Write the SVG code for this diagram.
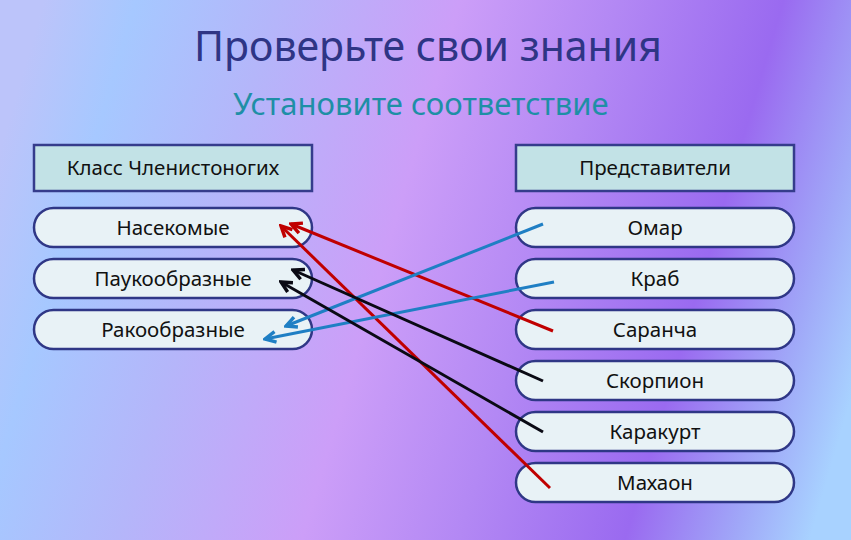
<svg xmlns="http://www.w3.org/2000/svg" width="851" height="540" viewBox="0 0 851 540">
<defs>
<linearGradient id="bg" gradientUnits="userSpaceOnUse" x1="0" y1="150" x2="851" y2="400">
<stop offset="0" stop-color="#bcc4fa"/>
<stop offset="0.1" stop-color="#a6c8ff"/>
<stop offset="0.25" stop-color="#b4b6fa"/>
<stop offset="0.45" stop-color="#cc9ef8"/>
<stop offset="0.62" stop-color="#b388f4"/>
<stop offset="0.8" stop-color="#9a6af0"/>
<stop offset="0.92" stop-color="#a0a8f8"/>
<stop offset="1" stop-color="#a8d2ff"/>
</linearGradient>
<marker id="aRed" viewBox="0 0 14 14" refX="12" refY="7" markerWidth="15" markerHeight="15" markerUnits="userSpaceOnUse" orient="auto"><path d="M2,2 L12,7 L2,12" fill="none" stroke="#c00000" stroke-width="3.2"/></marker>
<marker id="aBlue" viewBox="0 0 14 14" refX="12" refY="7" markerWidth="15" markerHeight="15" markerUnits="userSpaceOnUse" orient="auto"><path d="M2,2 L12,7 L2,12" fill="none" stroke="#1f7fc4" stroke-width="3.2"/></marker>
<marker id="aBlack" viewBox="0 0 14 14" refX="12" refY="7" markerWidth="15" markerHeight="15" markerUnits="userSpaceOnUse" orient="auto"><path d="M2,2 L12,7 L2,12" fill="none" stroke="#0a0a14" stroke-width="3.2"/></marker>
</defs>
<style>
.hdr{fill:#c2e2e6;stroke:#353c8c;stroke-width:2.5}
.pill{fill:#e8f2f6;stroke:#2f3786;stroke-width:2.5}
.t{font-family:"Noto Sans","Open Sans",sans-serif;font-size:20.5px;fill:#111;text-anchor:middle}
.title{font-family:"Noto Sans","Open Sans",sans-serif;font-size:41px;fill:#2e3585;text-anchor:middle}
.sub{font-family:"Noto Sans","Open Sans",sans-serif;font-size:31px;fill:#1e8fa6;text-anchor:middle}
.c{fill:none;stroke-width:3;stroke-linecap:butt}
</style>
<rect width="851" height="540" fill="url(#bg)"/>
<text class="title" x="428" y="61">Проверьте свои знания</text>
<text class="sub" x="421" y="115">Установите соответствие</text>
<g id="hdr-left"><rect class="hdr" x="34" y="145" width="278" height="46"/><text class="t" x="173" y="175">Класс Членистоногих</text></g>
<g id="hdr-right"><rect class="hdr" x="516" y="145" width="278" height="46"/><text class="t" x="655" y="175">Представители</text></g>
<g id="l1"><rect class="pill" x="34" y="208" width="278" height="39" rx="19.5"/><text class="t" x="173" y="235">Насекомые</text></g>
<g id="l2"><rect class="pill" x="34" y="259" width="278" height="39" rx="19.5"/><text class="t" x="173" y="286">Паукообразные</text></g>
<g id="l3"><rect class="pill" x="34" y="310" width="278" height="39" rx="19.5"/><text class="t" x="173" y="337">Ракообразные</text></g>
<g id="r1"><rect class="pill" x="516" y="208" width="278" height="39" rx="19.5"/><text class="t" x="655" y="235">Омар</text></g>
<g id="r2"><rect class="pill" x="516" y="259" width="278" height="39" rx="19.5"/><text class="t" x="655" y="286">Краб</text></g>
<g id="r3"><rect class="pill" x="516" y="310" width="278" height="39" rx="19.5"/><text class="t" x="655" y="337">Саранча</text></g>
<g id="r4"><rect class="pill" x="516" y="361" width="278" height="39" rx="19.5"/><text class="t" x="655" y="388">Скорпион</text></g>
<g id="r5"><rect class="pill" x="516" y="412" width="278" height="39" rx="19.5"/><text class="t" x="655" y="439">Каракурт</text></g>
<g id="r6"><rect class="pill" x="516" y="463" width="278" height="39" rx="19.5"/><text class="t" x="655" y="490">Махаон</text></g>
<g id="connectors">
<line class="c" x1="553" y1="331" x2="291" y2="224" stroke="#c00000" marker-end="url(#aRed)"/>
<line class="c" x1="550" y1="488" x2="281" y2="226" stroke="#c00000" marker-end="url(#aRed)"/>
<line class="c" x1="543" y1="224" x2="286" y2="326" stroke="#1f7fc4" marker-end="url(#aBlue)"/>
<line class="c" x1="554" y1="282" x2="265" y2="339" stroke="#1f7fc4" marker-end="url(#aBlue)"/>
<line class="c" x1="543" y1="381" x2="293" y2="270" stroke="#0a0a14" marker-end="url(#aBlack)"/>
<line class="c" x1="543" y1="432" x2="281" y2="282" stroke="#0a0a14" marker-end="url(#aBlack)"/>
</g>
</svg>
